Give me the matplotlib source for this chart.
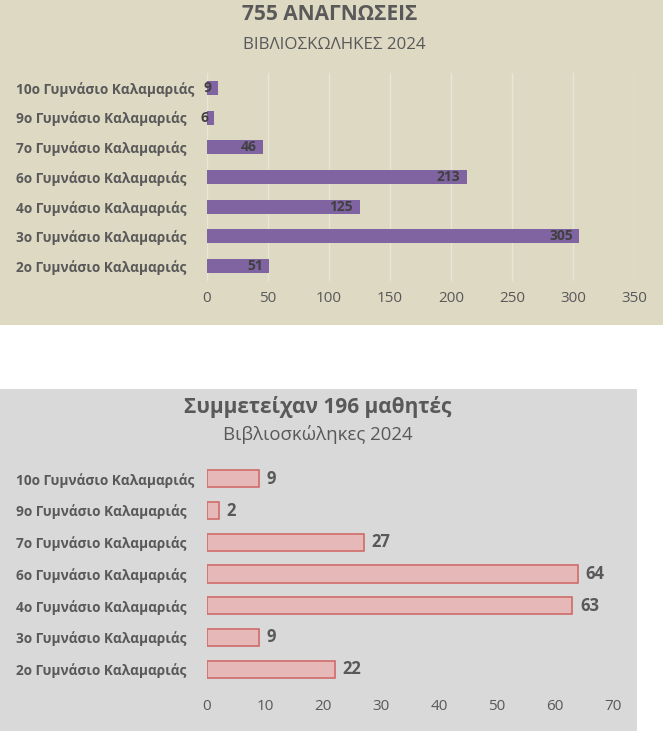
import matplotlib
matplotlib.use('Agg')
import matplotlib.pyplot as plt
from matplotlib.patches import Rectangle

plt.rcParams['font.family'] = ['Open Sans', 'Liberation Sans', 'DejaVu Sans']

# δεδομένα
schools = ["10ο Γυμνάσιο Καλαμαριάς", "9ο Γυμνάσιο Καλαμαριάς", "7ο Γυμνάσιο Καλαμαριάς",
           "6ο Γυμνάσιο Καλαμαριάς", "4ο Γυμνάσιο Καλαμαριάς", "3ο Γυμνάσιο Καλαμαριάς",
           "2ο Γυμνάσιο Καλαμαριάς"]
readings = [9, 6, 46, 213, 125, 305, 51]
students = [9, 2, 27, 64, 63, 9, 22]
readings_ticks = [0, 50, 100, 150, 200, 250, 300, 350]
students_ticks = [0, 10, 20, 30, 40, 50, 60, 70]

W, H = 663, 731
GREY = '#595959'


def px_axes(fig, left, top, right, bottom):
    # θέση σε pixel -> συντεταγμένες figure
    return fig.add_axes([left / W, (H - bottom) / H, (right - left) / W, (bottom - top) / H])


def style_axes(ax, ticks, pad):
    ax.set_facecolor('none')
    for s in ax.spines.values():
        s.set_visible(False)
    ax.set_xticks(ticks)
    ax.set_xlim(ticks[0], ticks[-1])
    ax.set_ylim(len(schools) - 0.5, -0.5)
    ax.set_yticks(range(len(schools)))
    ax.set_yticklabels(schools, fontsize=9.8, fontweight='bold', color=GREY)
    for lab in ax.get_yticklabels():
        lab.set_ha('left')
    ax.tick_params(axis='both', length=0)
    ax.tick_params(axis='x', labelsize=11, labelcolor=GREY, pad=pad)
    # ετικέτες στοιχισμένες αριστερά στο x=16px
    ax.tick_params(axis='y', pad=(207 - 16) * 0.72)


fig = plt.figure(figsize=(W / 100, H / 100), dpi=100)
fig.patch.set_facecolor('white')

# φόντα των δύο διαγραμμάτων
fig.add_artist(Rectangle((0, (H - 325) / H), 1, 325 / H, transform=fig.transFigure,
                         facecolor='#ddd9c3', edgecolor='none', zorder=-10))
fig.add_artist(Rectangle((0, 0), 637 / W, (H - 389) / H, transform=fig.transFigure,
                         facecolor='#d9d9d9', edgecolor='none', zorder=-10))

# --- πάνω διάγραμμα: αναγνώσεις ---
ax1 = px_axes(fig, 207, 73, 634, 281)
style_axes(ax1, readings_ticks, 7)
ax1.grid(axis='x', color='#e9e6d8', linewidth=1)
ax1.set_axisbelow(True)
bars1 = ax1.barh(range(len(schools)), readings, height=0.47, color='#8064a2', zorder=3)
for b, v in zip(bars1, readings):
    ax1.annotate(str(v), (b.get_width(), b.get_y() + b.get_height() / 2),
                 xytext=(-4.5, 0), textcoords='offset points', ha='right', va='center',
                 fontsize=10, fontweight='bold', color='#404040', zorder=4)

fig.text(330 / W, 1 - 14 / H, "755 ΑΝΑΓΝΩΣΕΙΣ", ha='center', va='center',
         fontsize=15, fontweight='bold', color=GREY)
fig.text(334 / W, 1 - 45 / H, "ΒΙΒΛΙΟΣΚΩΛΗΚΕΣ 2024", ha='center', va='center',
         fontsize=12.2, color=GREY)

# --- κάτω διάγραμμα: μαθητές ---
ax2 = px_axes(fig, 207, 463, 613, 685)
style_axes(ax2, students_ticks, 10)
bars2 = ax2.barh(range(len(schools)), students, height=0.54, color='#e6b9b8',
                 edgecolor='#d06b69', linewidth=1.2, zorder=3)
for b, v in zip(bars2, students):
    ax2.annotate(str(v), (b.get_width(), b.get_y() + b.get_height() / 2),
                 xytext=(5.5, 0), textcoords='offset points', ha='left', va='center',
                 fontsize=12, fontweight='bold', color=GREY, zorder=4)

fig.text(318 / W, 1 - 407 / H, "Συμμετείχαν 196 μαθητές", ha='center', va='center',
         fontsize=15, fontweight='bold', color=GREY)
fig.text(318 / W, 1 - 434 / H, "Βιβλιοσκώληκες 2024", ha='center', va='center',
         fontsize=13.4, color=GREY)

fig.savefig('out.png', dpi=100)
